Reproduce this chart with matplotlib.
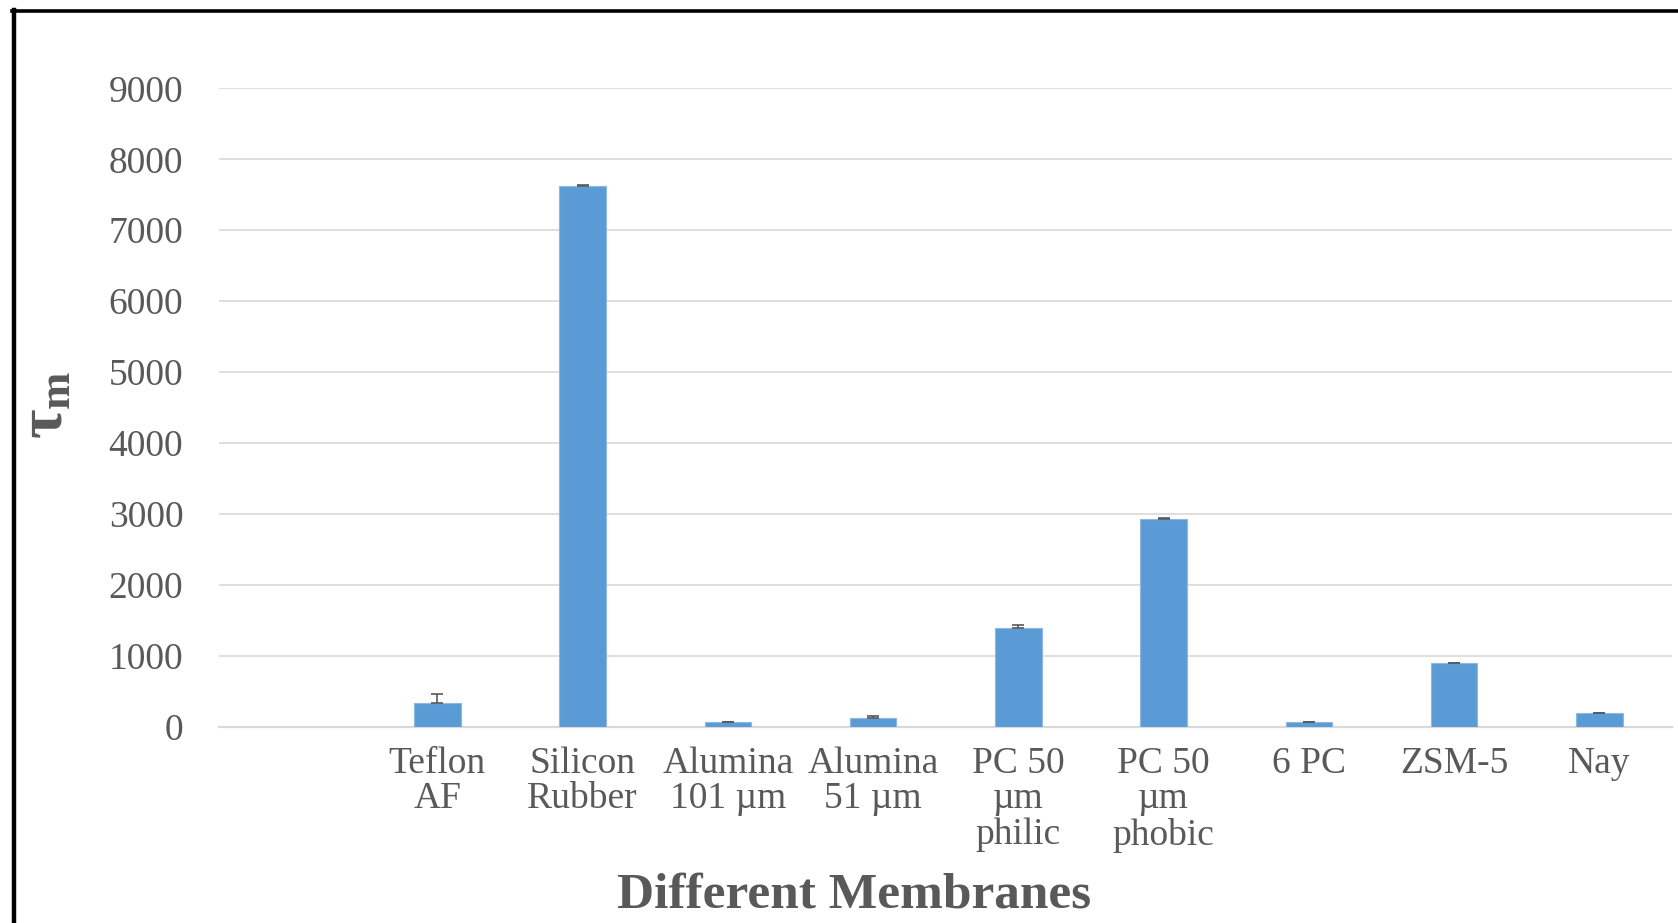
import matplotlib
matplotlib.use("Agg")
import matplotlib.pyplot as plt
from matplotlib.lines import Line2D

# Membrane data
membranes = ["Teflon\nAF", "Silicon\nRubber", "Alumina\n101 µm", "Alumina\n51 µm",
             "PC 50\nµm\nphilic", "PC 50\nµm\nphobic", "6 PC", "ZSM-5", "Nay"]
tau_m = [330, 7625, 62, 123, 1396, 2928, 62, 894, 193]
tau_err = [125, 8, 8, 22, 40, 12, 8, 10, 6]
y_ticks = [0, 1000, 2000, 3000, 4000, 5000, 6000, 7000, 8000, 9000]

plt.rcParams["font.family"] = ["Liberation Serif", "DejaVu Serif"]
plt.rcParams["mathtext.fontset"] = "custom"
plt.rcParams["mathtext.rm"] = "Liberation Serif"
plt.rcParams["mathtext.bf"] = "Liberation Serif:bold"
plt.rcParams["mathtext.it"] = "Liberation Serif:italic"

text_gray = "#595959"
grid_gray = "#d9d9d9"

fig = plt.figure(figsize=(16.78, 9.23), dpi=100)
ax = fig.add_axes([0.1308, 0.2127, 0.9964 - 0.1308, 0.9043 - 0.2127])

x = list(range(len(membranes)))
ax.bar(x, tau_m, width=0.32, color="#5b9bd5", edgecolor="#8db8e3", linewidth=0.8, zorder=3)
ax.errorbar(x, tau_m, yerr=[[0] * len(tau_err), tau_err], fmt="none",
            ecolor=text_gray, elinewidth=1.2, capsize=4.5, capthick=1.2, zorder=4)

ax.set_xlim(-1.5, len(membranes) - 0.5)
ax.set_ylim(0, 9000)
ax.set_yticks(y_ticks)
ax.set_xticks(x)
ax.set_xticklabels(membranes, linespacing=1.05)

ax.grid(axis="y", color=grid_gray, linewidth=1.2, zorder=0)
ax.set_axisbelow(True)
for side in ["top", "right", "left"]:
    ax.spines[side].set_visible(False)
ax.spines["bottom"].set_color(grid_gray)
ax.spines["bottom"].set_linewidth(1.6)

ax.tick_params(axis="y", length=0, pad=26, labelsize=27, labelcolor=text_gray)
ax.tick_params(axis="x", length=0, pad=14, labelsize=27, labelcolor=text_gray)

ax.set_xlabel("Different Membranes", fontsize=37, fontweight="bold",
              color=text_gray)
ax.xaxis.set_label_coords(0.4366, -0.264)
ax.xaxis.label.set_va("center")
fig.text(0.028, 0.562, r"$\mathbf{\tau}_{\mathbf{m}}$", fontsize=46, color=text_gray,
         rotation=90, ha="center", va="center")

# Frame lines along the left and top edges
fig.add_artist(Line2D([13.5 / 1678, 13.5 / 1678], [0, 1 - 10 / 923],
                      transform=fig.transFigure, color="black", linewidth=3.2))
fig.add_artist(Line2D([12 / 1678, 1], [1 - 11 / 923, 1 - 11 / 923],
                      transform=fig.transFigure, color="black", linewidth=2.6))

fig.savefig("out.png", dpi=100, facecolor="white")
